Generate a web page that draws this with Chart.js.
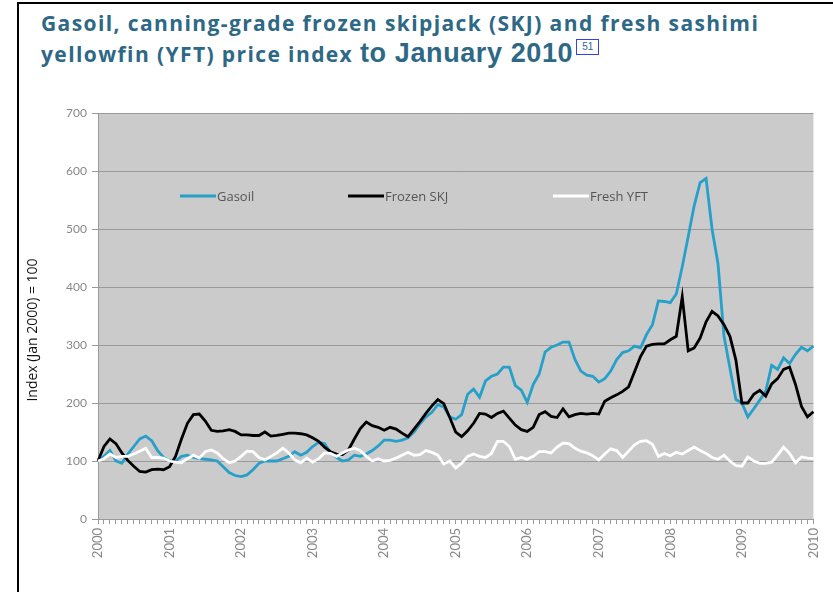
<!DOCTYPE html>
<html>
<head>
<meta charset="utf-8">
<script src="https://cdn.jsdelivr.net/npm/chart.js@4/dist/chart.umd.min.js"></script>
<style>
  body { margin: 0; background: #fff; width: 833px; height: 592px; overflow: hidden; position: relative; font-family: 'Open Sans', sans-serif; }
  #frame { position: absolute; left: 17px; top: 2px; width: 830px; height: 600px; border-left: 2px solid #000; border-top: 2px solid #000; }
  .ttl { position: absolute; left: 41px; color: #2d6886; font-weight: bold; font-size: 21px; white-space: nowrap; letter-spacing: 1.4px; }
  #t1 { top: 9px; }
  #t2 { top: 38px; }
  #t2 .big { font-family: 'Liberation Sans', sans-serif; font-size: 27px; font-weight: bold; letter-spacing: 0.6px; }
  #t2 .ref { display: inline-block; font-family: 'Liberation Sans', sans-serif; font-size: 10px; font-weight: normal; letter-spacing: 0; color: #2d6886; border: 1px solid #3344dd; padding: 0 5px; line-height: 14px; vertical-align: 12px; margin-left: 3px; }
  #wrap { position: absolute; left: 18px; top: 100px; width: 815px; height: 492px; }
</style>
</head>
<body>
<div id="frame"></div>
<div class="ttl" id="t1">Gasoil, canning-grade frozen skipjack (SKJ) and fresh sashimi</div>
<div class="ttl" id="t2">yellowfin (YFT) price index <span class="big">to January 2010</span><span class="ref">51</span></div>
<div id="wrap"><canvas id="myChart"></canvas></div>
<script>
// monthly, Jan 2000 .. Jan 2010, index Jan 2000 = 100
var years = ['2000','2001','2002','2003','2004','2005','2006','2007','2008','2009','2010'];
var months = [];
for (var y = 2000; y <= 2010; y++) {
    for (var m = 1; m <= 12; m++) {
        if (y === 2010 && m > 1) break;
        months.push(y + '-' + (m < 10 ? '0' + m : m));
    }
}

var gasoil = [
    100,108,118,100,96,112,125,138,143,135,118,106,
    100,100,108,110,106,104,103,102,100,90,80,75,
    73,76,85,96,100,100,100,104,108,116,110,115,
    125,132,130,114,106,100,102,110,108,112,118,126,
    136,136,134,136,140,150,164,176,184,197,193,176,
    172,180,215,224,210,238,246,250,262,262,230,222,
    201,232,250,288,296,300,305,305,275,255,248,246,
    236,242,255,275,287,290,298,295,318,335,376,375,
    373,388,435,487,540,580,587,500,440,316,260,206,
    200,176,190,205,220,265,258,278,268,284,296,290,
    298
];

var frozenSKJ = [
    100,125,138,130,114,101,91,82,81,85,86,85,
    90,108,138,165,180,181,169,153,151,152,154,151,
    145,145,144,144,150,143,144,146,148,148,147,145,
    140,134,124,116,112,111,119,138,156,167,161,158,
    153,158,155,148,142,155,168,182,195,206,199,175,
    150,142,152,165,182,181,175,182,186,174,162,154,
    151,158,180,185,177,175,190,176,180,182,181,182,
    181,203,209,214,220,228,254,280,298,301,302,302,
    309,315,383,290,295,312,340,358,350,335,315,274,
    200,200,215,222,212,233,242,258,262,232,194,176,
    185
];

var freshYFT = [
    100,104,112,106,108,108,112,117,122,106,106,105,
    100,98,97,104,110,105,116,119,114,104,97,100,
    108,117,116,106,102,108,114,122,114,102,97,105,
    98,104,114,113,108,114,119,122,118,108,100,104,
    100,101,105,110,115,110,111,118,115,110,95,100,
    88,96,108,112,108,106,113,134,134,125,103,106,
    103,108,116,116,114,124,131,130,122,117,114,109,
    102,112,121,118,106,117,128,134,135,129,108,113,
    109,115,112,118,124,118,113,106,103,110,100,92,
    91,107,100,96,96,98,110,124,113,97,107,105,
    104
];

var seriesNames = ['Gasoil', 'Frozen SKJ', 'Fresh YFT'];
var seriesColors = ['#27a0c9', '#000000', '#ffffff'];
var yTitle = 'Index (Jan 2000) = 100';

// grey plot background
var plotBg = {
    id: 'plotBg',
    beforeDraw: function(chart) {
        var a = chart.chartArea, ctx = chart.ctx;
        ctx.save();
        ctx.fillStyle = '#cbcbcb';
        ctx.fillRect(a.left, a.top, a.right - a.left, a.bottom - a.top);
        ctx.restore();
    }
};

// legend sits inside the plot, in one row; y title drawn by hand (it sits a bit low)
var innerLegend = {
    id: 'innerLegend',
    afterDatasetsDraw: function(chart) {
        var a = chart.chartArea, ctx = chart.ctx;
        var spots = [82, 250, 455];
        ctx.save();
        ctx.font = '13px "Open Sans", sans-serif';
        ctx.textBaseline = 'middle';
        for (var i = 0; i < seriesNames.length; i++) {
            var x = a.left + spots[i], y = a.top + 83;
            ctx.strokeStyle = seriesColors[i];
            ctx.lineWidth = 2.8;
            ctx.beginPath();
            ctx.moveTo(x, y);
            ctx.lineTo(x + 36, y);
            ctx.stroke();
            ctx.fillStyle = '#555';
            ctx.fillText(seriesNames[i], x + 37, y + 1);
        }
        ctx.translate(15, 230);
        ctx.rotate(-Math.PI / 2);
        ctx.font = '14px "Open Sans", sans-serif';
        ctx.fillStyle = '#111';
        ctx.textAlign = 'center';
        ctx.fillText(yTitle, 0, 0);
        ctx.restore();
    }
};

var myChart;
var loadChart = function() {
    var ctx = document.getElementById('myChart');
    myChart = new Chart(ctx, {
        type: 'line',
        data: {
            labels: months,
            datasets: [
                { label: seriesNames[0], data: gasoil, borderColor: seriesColors[0], borderWidth: 2.8, pointRadius: 0, tension: 0, fill: false, order: 3 },
                { label: seriesNames[1], data: frozenSKJ, borderColor: seriesColors[1], borderWidth: 2.8, pointRadius: 0, tension: 0, fill: false, order: 2 },
                { label: seriesNames[2], data: freshYFT, borderColor: seriesColors[2], borderWidth: 2.8, pointRadius: 0, tension: 0, fill: false, order: 1 }
            ]
        },
        options: {
            responsive: true,
            maintainAspectRatio: false,
            animation: false,
            layout: { padding: { top: 13, right: 18, left: 0, bottom: 0 } },
            plugins: { legend: { display: false }, tooltip: { enabled: false } },
            scales: {
                x: {
                    offset: false,
                    grid: { drawOnChartArea: false, drawTicks: true, tickLength: 5, color: '#999' },
                    border: { color: '#999' },
                    ticks: {
                        autoSkip: false, maxRotation: 90, minRotation: 90,
                        color: '#888', font: { size: 13, family: 'Lato' }, padding: 4,
                        callback: function(v, i) {
                            var l = months[i];
                            return l.slice(5) === '01' ? l.slice(0, 4) : '';
                        }
                    },
                    afterFit: function(s) { s.height = 73; }
                },
                y: {
                    min: 0, max: 700,
                    grid: { color: '#9a9a9a', tickLength: 6 },
                    border: { color: '#9a9a9a' },
                    ticks: { stepSize: 100, color: '#888', font: { size: 12, family: 'Lato' }, padding: 5 },
                    afterFit: function(s) { s.width = 80; }
                }
            }
        },
        plugins: [plotBg, innerLegend]
    });
};
loadChart();
</script>
</body>
</html>
